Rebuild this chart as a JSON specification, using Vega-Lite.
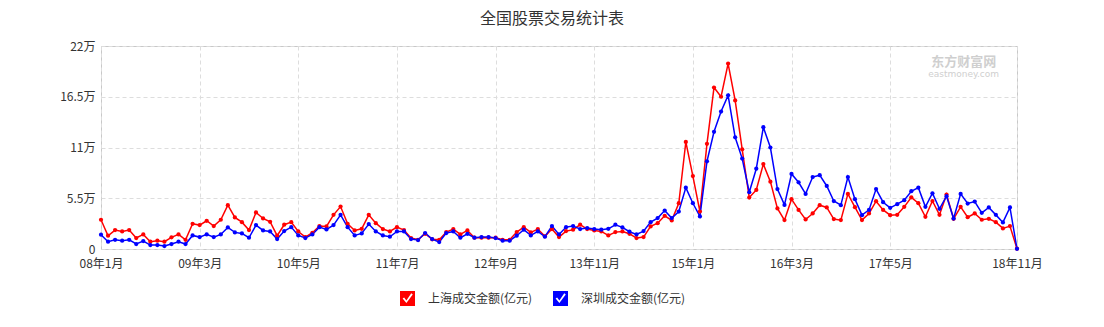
{
  "$schema": "https://vega.github.io/schema/vega-lite/v6.json",
  "autosize": "none",
  "width": 916,
  "height": 203,
  "padding": {"left": 101, "top": 46, "right": 87, "bottom": 78},
  "background": "#ffffff",
  "title": {"text": "全国股票交易统计表", "fontSize": 16, "font": "Noto Sans CJK SC", "fontWeight": "normal", "color": "#333333", "anchor": "middle", "dx": -7, "offset": 13},
  "config": {
    "view": {"stroke": "#c8c8c8", "strokeWidth": 1},
    "axis": {"labelFont": "Noto Sans CJK SC", "labelFontSize": 12, "labelColor": "#333333", "ticks": false, "domain": false, "gridColor": "#dddddd", "gridDash": [4, 3], "gridWidth": 1, "title": null}
  },
  "data": {"values": [
    {"月份":"08年1月","上海成交金额(亿元)":31700,"深圳成交金额(亿元)":15500},
    {"月份":"08年2月","上海成交金额(亿元)":14400,"深圳成交金额(亿元)":7900},
    {"月份":"08年3月","上海成交金额(亿元)":20500,"深圳成交金额(亿元)":10000},
    {"月份":"08年4月","上海成交金额(亿元)":19000,"深圳成交金额(亿元)":9000},
    {"月份":"08年5月","上海成交金额(亿元)":20500,"深圳成交金额(亿元)":10000},
    {"月份":"08年6月","上海成交金额(亿元)":11900,"深圳成交金额(亿元)":5400},
    {"月份":"08年7月","上海成交金额(亿元)":15800,"深圳成交金额(亿元)":8600},
    {"月份":"08年8月","上海成交金额(亿元)":7900,"深圳成交金额(亿元)":4300},
    {"月份":"08年9月","上海成交金额(亿元)":9000,"深圳成交金额(亿元)":4300},
    {"月份":"08年10月","上海成交金额(亿元)":7900,"深圳成交金额(亿元)":3200},
    {"月份":"08年11月","上海成交金额(亿元)":12600,"深圳成交金额(亿元)":5400},
    {"月份":"08年12月","上海成交金额(亿元)":15800,"深圳成交金额(亿元)":7900},
    {"月份":"09年1月","上海成交金额(亿元)":10000,"深圳成交金额(亿元)":5400},
    {"月份":"09年2月","上海成交金额(亿元)":27300,"深圳成交金额(亿元)":14700},
    {"月份":"09年3月","上海成交金额(亿元)":25900,"深圳成交金额(亿元)":12900},
    {"月份":"09年4月","上海成交金额(亿元)":30600,"深圳成交金额(亿元)":15800},
    {"月份":"09年5月","上海成交金额(亿元)":24800,"深圳成交金额(亿元)":12900},
    {"月份":"09年6月","上海成交金额(亿元)":31700,"深圳成交金额(亿元)":15800},
    {"月份":"09年7月","上海成交金额(亿元)":47500,"深圳成交金额(亿元)":23400},
    {"月份":"09年8月","上海成交金额(亿元)":34200,"深圳成交金额(亿元)":18000},
    {"月份":"09年9月","上海成交金额(亿元)":29100,"深圳成交金额(亿元)":16900},
    {"月份":"09年10月","上海成交金额(亿元)":20500,"深圳成交金额(亿元)":12200},
    {"月份":"09年11月","上海成交金额(亿元)":39600,"深圳成交金额(亿元)":25900},
    {"月份":"09年12月","上海成交金额(亿元)":33100,"深圳成交金额(亿元)":20100},
    {"月份":"10年1月","上海成交金额(亿元)":29500,"深圳成交金额(亿元)":19000},
    {"月份":"10年2月","上海成交金额(亿元)":14400,"深圳成交金额(亿元)":10800},
    {"月份":"10年3月","上海成交金额(亿元)":26300,"深圳成交金额(亿元)":19400},
    {"月份":"10年4月","上海成交金额(亿元)":29100,"深圳成交金额(亿元)":23700},
    {"月份":"10年5月","上海成交金额(亿元)":19000,"深圳成交金额(亿元)":14700},
    {"月份":"10年6月","上海成交金额(亿元)":12900,"深圳成交金额(亿元)":11900},
    {"月份":"10年7月","上海成交金额(亿元)":17600,"深圳成交金额(亿元)":15800},
    {"月份":"10年8月","上海成交金额(亿元)":24800,"深圳成交金额(亿元)":23700},
    {"月份":"10年9月","上海成交金额(亿元)":24500,"深圳成交金额(亿元)":21200},
    {"月份":"10年10月","上海成交金额(亿元)":37000,"深圳成交金额(亿元)":25900},
    {"月份":"10年11月","上海成交金额(亿元)":46000,"深圳成交金额(亿元)":37000},
    {"月份":"10年12月","上海成交金额(亿元)":27300,"深圳成交金额(亿元)":23700},
    {"月份":"11年1月","上海成交金额(亿元)":20100,"深圳成交金额(亿元)":14700},
    {"月份":"11年2月","上海成交金额(亿元)":21900,"深圳成交金额(亿元)":16900},
    {"月份":"11年3月","上海成交金额(亿元)":37000,"深圳成交金额(亿元)":27000},
    {"月份":"11年4月","上海成交金额(亿元)":28000,"深圳成交金额(亿元)":19000},
    {"月份":"11年5月","上海成交金额(亿元)":21600,"深圳成交金额(亿元)":14700},
    {"月份":"11年6月","上海成交金额(亿元)":19000,"深圳成交金额(亿元)":13300},
    {"月份":"11年7月","上海成交金额(亿元)":23700,"深圳成交金额(亿元)":19000},
    {"月份":"11年8月","上海成交金额(亿元)":20500,"深圳成交金额(亿元)":19000},
    {"月份":"11年9月","上海成交金额(亿元)":11900,"深圳成交金额(亿元)":10800},
    {"月份":"11年10月","上海成交金额(亿元)":10000,"深圳成交金额(亿元)":9700},
    {"月份":"11年11月","上海成交金额(亿元)":16500,"深圳成交金额(亿元)":17300},
    {"月份":"11年12月","上海成交金额(亿元)":10500,"深圳成交金额(亿元)":10800},
    {"月份":"12年1月","上海成交金额(亿元)":10000,"深圳成交金额(亿元)":7500},
    {"月份":"12年2月","上海成交金额(亿元)":18300,"深圳成交金额(亿元)":17300},
    {"月份":"12年3月","上海成交金额(亿元)":21600,"深圳成交金额(亿元)":19000},
    {"月份":"12年4月","上海成交金额(亿元)":15800,"深圳成交金额(亿元)":12200},
    {"月份":"12年5月","上海成交金额(亿元)":20100,"深圳成交金额(亿元)":16500},
    {"月份":"12年6月","上海成交金额(亿元)":12200,"深圳成交金额(亿元)":12200},
    {"月份":"12年7月","上海成交金额(亿元)":12200,"深圳成交金额(亿元)":12900},
    {"月份":"12年8月","上海成交金额(亿元)":12200,"深圳成交金额(亿元)":12900},
    {"月份":"12年9月","上海成交金额(亿元)":12200,"深圳成交金额(亿元)":11900},
    {"月份":"12年10月","上海成交金额(亿元)":10000,"深圳成交金额(亿元)":9000},
    {"月份":"12年11月","上海成交金额(亿元)":10000,"深圳成交金额(亿元)":9000},
    {"月份":"12年12月","上海成交金额(亿元)":18300,"深圳成交金额(亿元)":14400},
    {"月份":"13年1月","上海成交金额(亿元)":23700,"深圳成交金额(亿元)":20900},
    {"月份":"13年2月","上海成交金额(亿元)":18000,"深圳成交金额(亿元)":14700},
    {"月份":"13年3月","上海成交金额(亿元)":21600,"深圳成交金额(亿元)":19000},
    {"月份":"13年4月","上海成交金额(亿元)":13700,"深圳成交金额(亿元)":13300},
    {"月份":"13年5月","上海成交金额(亿元)":21600,"深圳成交金额(亿元)":24800},
    {"月份":"13年6月","上海成交金额(亿元)":12900,"深圳成交金额(亿元)":15800},
    {"月份":"13年7月","上海成交金额(亿元)":19400,"深圳成交金额(亿元)":23700},
    {"月份":"13年8月","上海成交金额(亿元)":20900,"深圳成交金额(亿元)":24800},
    {"月份":"13年9月","上海成交金额(亿元)":26300,"深圳成交金额(亿元)":21600},
    {"月份":"13年10月","上海成交金额(亿元)":21600,"深圳成交金额(亿元)":22700},
    {"月份":"13年11月","上海成交金额(亿元)":20100,"深圳成交金额(亿元)":21600},
    {"月份":"13年12月","上海成交金额(亿元)":19000,"深圳成交金额(亿元)":20900},
    {"月份":"14年1月","上海成交金额(亿元)":14700,"深圳成交金额(亿元)":21900},
    {"月份":"14年2月","上海成交金额(亿元)":18300,"深圳成交金额(亿元)":26300},
    {"月份":"14年3月","上海成交金额(亿元)":19000,"深圳成交金额(亿元)":23400},
    {"月份":"14年4月","上海成交金额(亿元)":16500,"深圳成交金额(亿元)":18700},
    {"月份":"14年5月","上海成交金额(亿元)":11900,"深圳成交金额(亿元)":15800},
    {"月份":"14年6月","上海成交金额(亿元)":12900,"深圳成交金额(亿元)":19400},
    {"月份":"14年7月","上海成交金额(亿元)":24500,"深圳成交金额(亿元)":29100},
    {"月份":"14年8月","上海成交金额(亿元)":28000,"深圳成交金额(亿元)":33500},
    {"月份":"14年9月","上海成交金额(亿元)":36000,"深圳成交金额(亿元)":41700},
    {"月份":"14年10月","上海成交金额(亿元)":31000,"深圳成交金额(亿元)":33500},
    {"月份":"14年11月","上海成交金额(亿元)":49600,"深圳成交金额(亿元)":40600},
    {"月份":"14年12月","上海成交金额(亿元)":116000,"深圳成交金额(亿元)":66500},
    {"月份":"15年1月","上海成交金额(亿元)":79000,"深圳成交金额(亿元)":49600},
    {"月份":"15年2月","上海成交金额(亿元)":40600,"深圳成交金额(亿元)":35300},
    {"月份":"15年3月","上海成交金额(亿元)":114000,"深圳成交金额(亿元)":95000},
    {"月份":"15年4月","上海成交金额(亿元)":175000,"深圳成交金额(亿元)":127000},
    {"月份":"15年5月","上海成交金额(亿元)":165000,"深圳成交金额(亿元)":149000},
    {"月份":"15年6月","上海成交金额(亿元)":201000,"深圳成交金额(亿元)":166500},
    {"月份":"15年7月","上海成交金额(亿元)":161000,"深圳成交金额(亿元)":121000},
    {"月份":"15年8月","上海成交金额(亿元)":108000,"深圳成交金额(亿元)":98000},
    {"月份":"15年9月","上海成交金额(亿元)":55800,"深圳成交金额(亿元)":61500},
    {"月份":"15年10月","上海成交金额(亿元)":64000,"深圳成交金额(亿元)":87000},
    {"月份":"15年11月","上海成交金额(亿元)":92000,"深圳成交金额(亿元)":132000},
    {"月份":"15年12月","上海成交金额(亿元)":73000,"深圳成交金额(亿元)":110000},
    {"月份":"16年1月","上海成交金额(亿元)":43900,"深圳成交金额(亿元)":65000},
    {"月份":"16年2月","上海成交金额(亿元)":31300,"深圳成交金额(亿元)":47800},
    {"月份":"16年3月","上海成交金额(亿元)":54000,"深圳成交金额(亿元)":81300},
    {"月份":"16年4月","上海成交金额(亿元)":42400,"深圳成交金额(亿元)":72300},
    {"月份":"16年5月","上海成交金额(亿元)":32000,"深圳成交金额(亿元)":59700},
    {"月份":"16年6月","上海成交金额(亿元)":38500,"深圳成交金额(亿元)":78000},
    {"月份":"16年7月","上海成交金额(亿元)":47500,"深圳成交金额(亿元)":80000},
    {"月份":"16年8月","上海成交金额(亿元)":45000,"深圳成交金额(亿元)":68300},
    {"月份":"16年9月","上海成交金额(亿元)":32400,"深圳成交金额(亿元)":52000},
    {"月份":"16年10月","上海成交金额(亿元)":31300,"深圳成交金额(亿元)":47500},
    {"月份":"16年11月","上海成交金额(亿元)":59700,"深圳成交金额(亿元)":78000},
    {"月份":"16年12月","上海成交金额(亿元)":45300,"深圳成交金额(亿元)":54000},
    {"月份":"17年1月","上海成交金额(亿元)":31300,"深圳成交金额(亿元)":36700},
    {"月份":"17年2月","上海成交金额(亿元)":38500,"深圳成交金额(亿元)":42400},
    {"月份":"17年3月","上海成交金额(亿元)":51800,"深圳成交金额(亿元)":65000},
    {"月份":"17年4月","上海成交金额(亿元)":42400,"深圳成交金额(亿元)":50700},
    {"月份":"17年5月","上海成交金额(亿元)":36700,"深圳成交金额(亿元)":44600},
    {"月份":"17年6月","上海成交金额(亿元)":37000,"深圳成交金额(亿元)":48600},
    {"月份":"17年7月","上海成交金额(亿元)":45700,"深圳成交金额(亿元)":52900},
    {"月份":"17年8月","上海成交金额(亿元)":56000,"深圳成交金额(亿元)":62600},
    {"月份":"17年9月","上海成交金额(亿元)":49600,"深圳成交金额(亿元)":66500},
    {"月份":"17年10月","上海成交金额(亿元)":34900,"深圳成交金额(亿元)":45700},
    {"月份":"17年11月","上海成交金额(亿元)":52000,"深圳成交金额(亿元)":60400},
    {"月份":"17年12月","上海成交金额(亿元)":37000,"深圳成交金额(亿元)":43500},
    {"月份":"18年1月","上海成交金额(亿元)":59000,"深圳成交金额(亿元)":57200},
    {"月份":"18年2月","上海成交金额(亿元)":32700,"深圳成交金额(亿元)":33000},
    {"月份":"18年3月","上海成交金额(亿元)":45700,"深圳成交金额(亿元)":59700},
    {"月份":"18年4月","上海成交金额(亿元)":34500,"深圳成交金额(亿元)":49300},
    {"月份":"18年5月","上海成交金额(亿元)":38500,"深圳成交金额(亿元)":51400},
    {"月份":"18年6月","上海成交金额(亿元)":31700,"深圳成交金额(亿元)":39200},
    {"月份":"18年7月","上海成交金额(亿元)":32700,"深圳成交金额(亿元)":45000},
    {"月份":"18年8月","上海成交金额(亿元)":29100,"深圳成交金额(亿元)":37000},
    {"月份":"18年9月","上海成交金额(亿元)":22300,"深圳成交金额(亿元)":28800},
    {"月份":"18年10月","上海成交金额(亿元)":24800,"深圳成交金额(亿元)":45000},
    {"月份":"18年11月","上海成交金额(亿元)":300,"深圳成交金额(亿元)":200}
  ]},
  "encoding": {
    "x": {"field": "月份", "type": "ordinal", "sort": null, "scale": {"type": "point", "padding": 0},
      "axis": {"values": ["08年1月","09年3月","10年5月","11年7月","12年9月","13年11月","15年1月","16年3月","17年5月","18年11月"], "labelAngle": 0, "labelPadding": 9, "grid": true, "labelOverlap": false}}
  },
  "layer": [
    {
      "transform": [{"fold": ["上海成交金额(亿元)", "深圳成交金额(亿元)"], "as": ["系列", "金额"]}],
      "mark": {"type": "line", "strokeWidth": 1.5, "point": {"filled": true, "size": 18, "opacity": 1}},
      "encoding": {
        "y": {"field": "金额", "type": "quantitative", "scale": {"domain": [0, 220000], "nice": false},
          "axis": {"values": [0, 55000, 110000, 165000, 220000], "labelExpr": "datum.value == 0 ? '0' : (datum.value / 10000) + '万'", "grid": true, "labelPadding": 6}},
        "color": {"field": "系列", "type": "nominal", "scale": {"domain": ["上海成交金额(亿元)", "深圳成交金额(亿元)"], "range": ["#ff0000", "#0000ff"]},
          "legend": {"title": null, "orient": "none", "legendX": 299, "legendY": 245, "direction": "horizontal", "padding": 0,
            "symbolType": "M-1,-1H1V1H-1Z M-0.65,0L-0.15,0.6L0.7,-0.55L0.5,-0.7L-0.15,0.25L-0.45,-0.15Z",
            "symbolSize": 225, "symbolStrokeWidth": 0, "symbolOpacity": 1, "labelFont": "Noto Sans CJK SC", "labelFontSize": 12, "labelColor": "#333333", "labelOffset": 13, "columnPadding": 20}}
      }
    },
    {
      "data": {"values": [{"t": "东方财富网"}]},
      "mark": {"type": "text", "font": "Noto Sans CJK SC", "fontSize": 13, "fontWeight": "bold", "color": "#cfcfcf", "align": "center", "baseline": "middle", "dx": 3},
      "encoding": {"x": {"datum": "18年3月"}, "y": {"datum": 202500}, "text": {"field": "t"}}
    },
    {
      "data": {"values": [{"t": "eastmoney.com"}]},
      "mark": {"type": "text", "font": "DejaVu Sans", "fontSize": 9, "color": "#cfcfcf", "align": "center", "baseline": "middle", "dx": 3},
      "encoding": {"x": {"datum": "18年3月"}, "y": {"datum": 189500}, "text": {"field": "t"}}
    }
  ]
}
